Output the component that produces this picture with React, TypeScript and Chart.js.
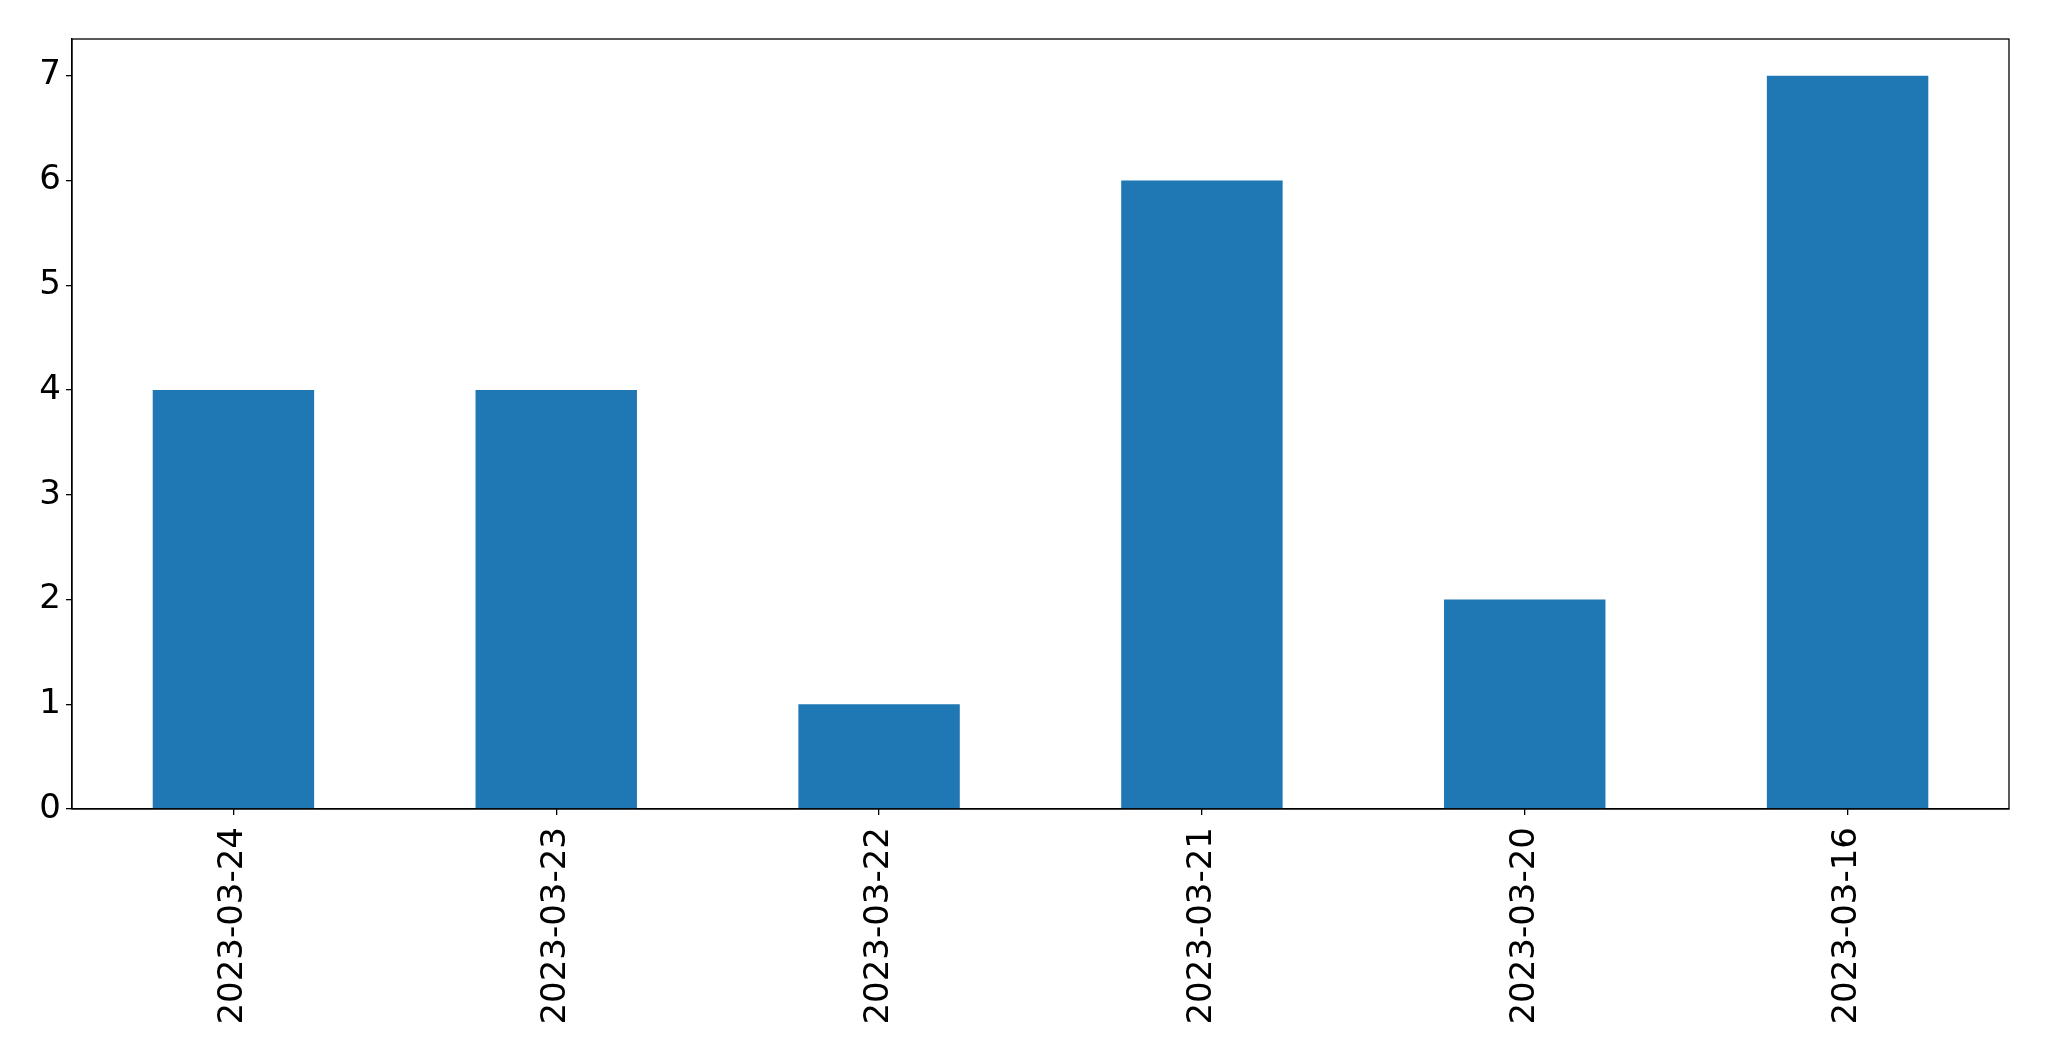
import React, { useEffect, useRef } from "react";
import { Chart, registerables } from "chart.js";

Chart.register(...registerables);

const categories = ["2023-03-24", "2023-03-23", "2023-03-22", "2023-03-21", "2023-03-20", "2023-03-16"];
const counts = [4, 4, 1, 6, 2, 7];
const yTickValues = [0, 1, 2, 3, 4, 5, 6, 7];
const yMin = 0;
const yMax = 7.35;

const W = 2049;
const H = 1061;

const framePlugin = {
  id: "frame",
  afterDraw(chart: any) {
    const { ctx, chartArea } = chart;
    ctx.save();
    ctx.strokeStyle = "#000";
    ctx.lineWidth = 1.3;
    ctx.strokeRect(chartArea.left, chartArea.top, chartArea.right - chartArea.left, chartArea.bottom - chartArea.top);
    ctx.restore();
  },
};

export default function App() {
  const ref = useRef<HTMLCanvasElement | null>(null);
  useEffect(() => {
    if (!ref.current) return;
    const font = { family: "'DejaVu Sans', sans-serif", size: 34 };
    const chart = new Chart(ref.current, {
      type: "bar",
      data: {
        labels: categories,
        datasets: [
          {
            data: counts,
            backgroundColor: "#1f77b4",
            borderWidth: 0,
            barPercentage: 0.5,
            categoryPercentage: 1,
          },
        ],
      },
      plugins: [framePlugin],
      options: {
        responsive: false,
        animation: false,
        devicePixelRatio: 1,
        layout: { padding: { top: 39, right: 40, left: 0, bottom: 0 } },
        plugins: { legend: { display: false }, tooltip: { enabled: false } },
        scales: {
          x: {
            offset: true,
            grid: {
              offset: false,
              drawOnChartArea: false,
              drawTicks: true,
              tickLength: 6,
              tickColor: "#000",
              lineWidth: 1.3,
            },
            border: { display: true, color: "#000", width: 1.3 },
            ticks: {
              color: "#000",
              font,
              minRotation: 90,
              maxRotation: 90,
              autoSkip: false,
              padding: 12,
            },
            afterFit: (s: any) => {
              s.height = 252;
            },
          },
          y: {
            min: yMin,
            max: yMax,
            grid: {
              drawOnChartArea: false,
              drawTicks: true,
              tickLength: 6,
              tickColor: "#000",
              lineWidth: 1.3,
            },
            border: { display: true, color: "#000", width: 1.3 },
            ticks: { color: "#000", font, padding: 5 },
            afterBuildTicks: (s: any) => {
              s.ticks = yTickValues.map((v) => ({ value: v }));
            },
            afterFit: (s: any) => {
              s.width = 72;
            },
          },
        },
      },
    });
    return () => chart.destroy();
  }, []);
  return (
    <div style={{ position: "absolute", left: 0, top: 0, width: W, height: H, background: "#fff" }}>
      <canvas ref={ref} width={W} height={H} style={{ width: W, height: H, display: "block" }} />
    </div>
  );
}
